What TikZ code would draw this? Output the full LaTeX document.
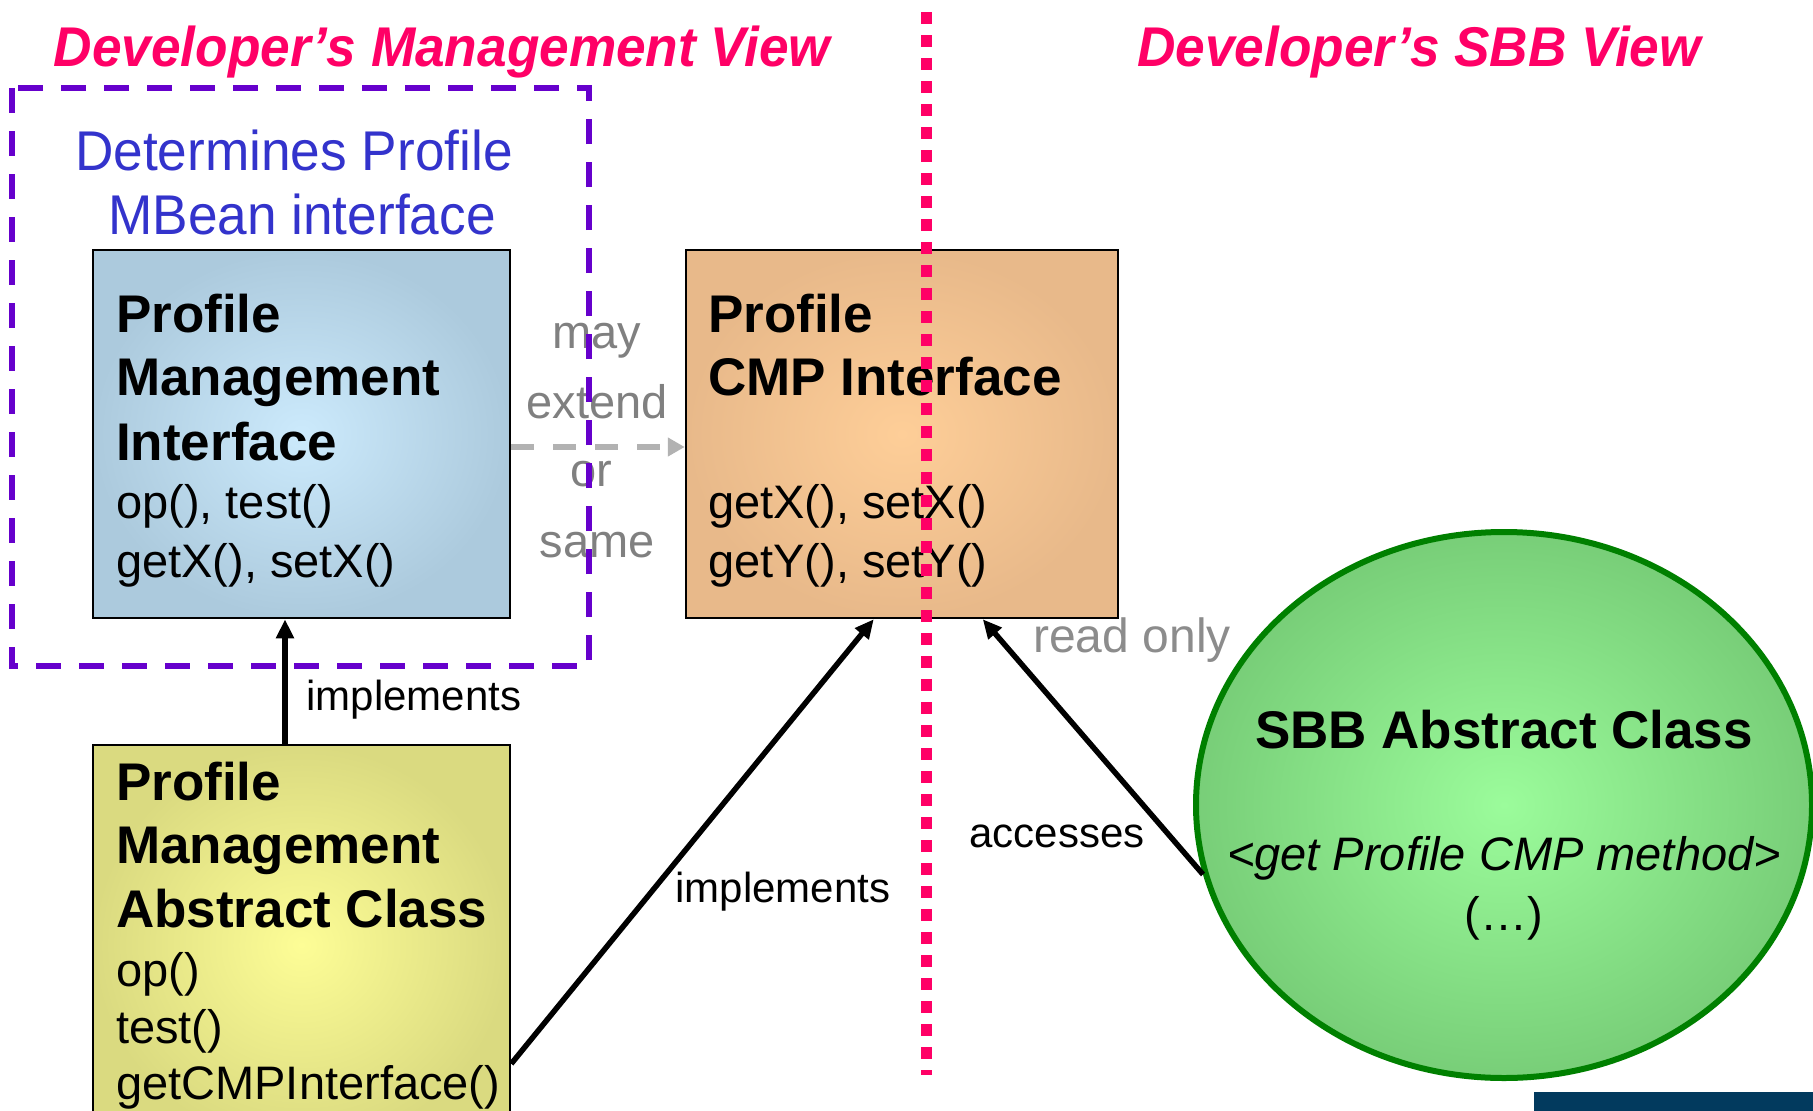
\documentclass[tikz,border=0pt]{standalone}
\usepackage{fontspec}
\setmainfont{Liberation Sans}
\usetikzlibrary{arrows.meta,calc,shapes.geometric}

\definecolor{viewpink}{RGB}{255,0,102}
\definecolor{mbeanblue}{RGB}{51,51,204}
\definecolor{groupviolet}{RGB}{102,0,204}
\definecolor{noteGray}{RGB}{128,128,128}
\definecolor{dashGray}{RGB}{178,178,178}
\definecolor{sbbgreen}{RGB}{0,128,0}
\definecolor{footerblue}{RGB}{2,58,94}

\newcommand\headfont{\fontsize{53}{64}\selectfont\bfseries}
\newcommand\opfont{\fontsize{47}{58}\selectfont}
\newcommand\labfont{\fontsize{42}{50}\selectfont}
\newcommand\titlefont{\fontsize{56}{64}\selectfont\bfseries\itshape}
\newcommand\notefont{\fontsize{56}{64}\selectfont}

\begin{document}
\begin{tikzpicture}[x=1pt,y=-1pt,
  classbox/.style={draw=black,line width=2.5pt,rectangle,inner sep=0pt},
  line/.style={anchor=base west,inner sep=0pt},
  lab/.style={anchor=base,inner sep=0pt,font=\labfont},
  arr/.style={line width=5.5pt,-{Triangle[length=19pt,width=17pt]}},
  title/.style={anchor=base,inner sep=0pt,font=\titlefont,text=viewpink,xscale=0.95},
]
\useasboundingbox (0,0) rectangle (1813,1111);
\fill[white] (0,0) rectangle (1813,1111);

% class boxes
\node[classbox,minimum width=417pt,minimum height=368pt,
      shade,inner color={rgb,255:red,204;green,234;blue,252},outer color={rgb,255:red,172;green,202;blue,221}]
  (pmi) at (301.5,434) {};
\node[classbox,minimum width=432pt,minimum height=368pt,
      shade,inner color={rgb,255:red,254;green,206;blue,152},outer color={rgb,255:red,232;green,185;blue,138}]
  (cmp) at (902,434) {};
\node[classbox,minimum width=417pt,minimum height=400pt,
      shade,inner color={rgb,255:red,253;green,253;blue,150},outer color={rgb,255:red,218;green,218;blue,128}]
  (pmac) at (301.5,945) {};
\node[ellipse,draw=sbbgreen,line width=6pt,minimum width=616pt,minimum height=546pt,inner sep=0pt,
      shade,inner color={rgb,255:red,155;green,252;blue,155},outer color={rgb,255:red,120;green,206;blue,120}]
  (sbb) at (1504,805) {};

% titles
\node[title] (tmgmt) at (442,66) {Developer’s Management View};
\node[title] (tsbb) at (1419,66) {Developer’s SBB View};

% note inside the dashed group
\node[anchor=base,inner sep=0pt,font=\notefont,text=mbeanblue,xscale=0.95] (note1) at (294,170) {Determines Profile};
\node[anchor=base,inner sep=0pt,font=\notefont,text=mbeanblue,xscale=0.95] (note2) at (302,234) {MBean interface};

% Profile Management Interface
\node[line,font=\headfont] (pmi1) at (116,332) {Profile};
\node[line,font=\headfont] (pmi2) at (116,395) {Management};
\node[line,font=\headfont] (pmi3) at (116,460) {Interface};
\node[line,font=\opfont] (pmi4) at (116,518) {op(), test()};
\node[line,font=\opfont] (pmi5) at (116,577) {getX(), setX()};

% Profile CMP Interface
\node[line,font=\headfont] (cmp1) at (708,332) {Profile};
\node[line,font=\headfont] (cmp2) at (708,395) {CMP Interface};
\node[line,font=\opfont] (cmp3) at (708,518) {getX(), setX()};
\node[line,font=\opfont] (cmp4) at (708,577) {getY(), setY()};

% Profile Management Abstract Class
\node[line,font=\headfont] (pmac1) at (116,800) {Profile};
\node[line,font=\headfont] (pmac2) at (116,863) {Management};
\node[line,font=\headfont] (pmac3) at (116,927) {Abstract Class};
\node[line,font=\opfont] (pmac4) at (116,986) {op()};
\node[line,font=\opfont] (pmac5) at (116,1043) {test()};
\node[line,font=\opfont] (pmac6) at (116,1099) {getCMPInterface()};

% SBB Abstract Class
\node[anchor=base,inner sep=0pt,font=\headfont] (sbb1) at (1504,748) {SBB Abstract Class};
\node[anchor=base,inner sep=0pt,font=\opfont\itshape] (sbb2) at (1504,870) {<get Profile CMP method>};
\node[anchor=base,inner sep=0pt,font=\opfont] (sbb3) at (1504,930) {(…)};

% connectors
\coordinate (vx) at (285,0);
\draw[arr] (pmac.north -| vx) -- (pmi.south -| vx);
\draw[arr] ($(pmac.north east)+(0,320)$) -- ($(cmp.south west)+(189,0)$);
\draw[arr] (sbb.193) -- ($(cmp.south west)+(298,0)$);
\draw[dashGray,line width=6pt,dash pattern=on 23pt off 19pt,
      -{Triangle[length=17pt,width=18pt]}]
  ($(pmi.east)+(0,13)$) -- ($(cmp.west)+(0,13)$);

% connector labels
\node[lab] (limpl1) at (414,710) {implements};
\node[lab] (limpl2) at (783,902) {implements};
\node[lab] (lacc) at (1057,847) {accesses};
\node[lab,font=\fontsize{48}{56}\selectfont,text={rgb,255:red,140;green,140;blue,140}] (lro) at (1132,652) {read only};
\node[lab,font=\opfont,text=noteGray] (lmay) at (597,348) {may};
\node[lab,font=\opfont,text=noteGray] (lext) at (597,418) {extend};
\node[lab,font=\opfont,text=noteGray] (lor) at (591,486) {or};
\node[lab,font=\opfont,text=noteGray] (lsame) at (597,557) {same};

% management-view group
\draw[groupviolet,line width=5.5pt,dash pattern=on 25pt off 18pt] (12,88) rectangle (589,666);

% boundary between the two views
\draw[viewpink,line width=11pt,dash pattern=on 12pt off 11pt] (926,12) -- (926,1075);

% footer strip
\fill[footerblue] (1534,1092) rectangle (1813,1111);
\end{tikzpicture}
\end{document}
